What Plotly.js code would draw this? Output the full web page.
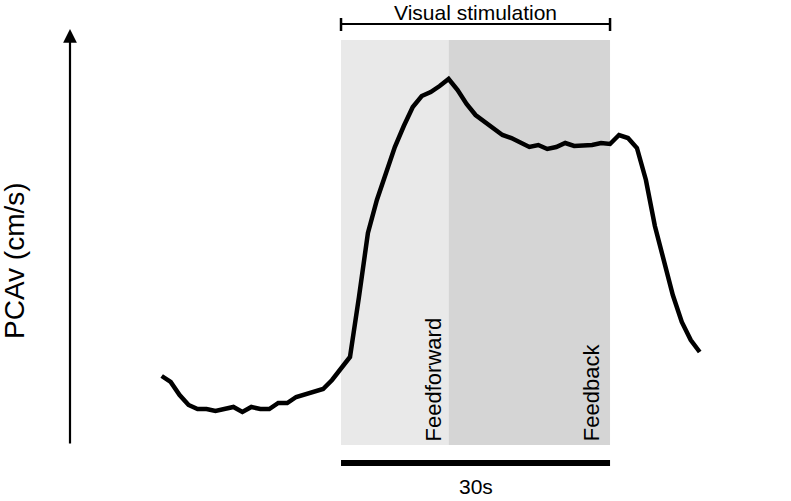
<!DOCTYPE html>
<html>
<head>
<meta charset="utf-8">
<script src="https://cdn.plot.ly/plotly-3.0.1.min.js"></script>
<style>html,body{margin:0;padding:0;background:#fff;}#chart{width:791px;height:501px;}</style>
</head>
<body>
<div id="chart"></div>
<script>
// time (s) relative to stimulation onset
const timeSec = [-20,-19,-18,-17,-16,-15,-14,-13,-12,-11,-10,-9,-8,-7,-6,-5,-4,-3,-2,-1,
  0,1,2,3,4,5,6,7,8,9,10,11,12,13,14,15,16,17,18,19,20,21,22,23,24,25,26,27,28,29,30,
  31,32,33,34,35,36,37,38,39,40];
// PCAv (cm/s, arbitrary scale)
const pcav = [41.9,41.3,40.0,39.0,38.6,38.6,38.4,38.6,38.8,38.3,38.8,38.6,38.6,39.2,39.2,39.8,40.1,40.3,40.6,41.5,
  42.7,43.8,49.8,56.2,59.5,62.3,64.8,66.9,68.8,69.9,70.3,70.9,71.6,70.5,69.1,68.0,67.3,66.6,66.0,65.7,65.2,64.8,65.0,64.6,64.8,65.2,64.9,64.9,65.0,65.2,65.1,
  66.0,65.7,64.7,61.5,56.9,53.3,50.0,47.3,45.5,44.3];
const stimStart = 0, feedforwardEnd = 12, stimEnd = 30;
const phaseLabels = ["Feedforward", "Feedback"];
const stimLabel = "Visual stimulation";
const durationLabel = "30s";
const yLabel = "PCAv (cm/s)";

const FONT = "Liberation Sans, Arial, sans-serif";
const yBottom = 35, yTop = 75.5;

const data = [{
  x: timeSec, y: pcav, type: 'scatter', mode: 'lines',
  line: {color: '#000', width: 4.5}, hoverinfo: 'skip'
}];

const layout = {
  width: 791, height: 501,
  margin: {l: 0, r: 0, t: 0, b: 0},
  paper_bgcolor: '#fff', plot_bgcolor: '#fff',
  showlegend: false,
  xaxis: {range: [-38.03, 50.18], visible: false, fixedrange: true},
  yaxis: {range: [29.4, 79.5], visible: false, fixedrange: true},
  shapes: [
    {type: 'rect', layer: 'below', xref: 'x', yref: 'y', x0: stimStart, x1: feedforwardEnd, y0: yBottom, y1: yTop,
     fillcolor: '#e9e9e9', line: {width: 0}},
    {type: 'rect', layer: 'below', xref: 'x', yref: 'y', x0: feedforwardEnd, x1: stimEnd, y0: yBottom, y1: yTop,
     fillcolor: '#d5d5d5', line: {width: 0}},
    // bracket
    {type: 'line', xref: 'x', yref: 'y', x0: stimStart, x1: stimEnd, y0: 77.1, y1: 77.1, line: {color: '#000', width: 2}},
    {type: 'line', xref: 'x', yref: 'y', x0: stimStart, x1: stimStart, y0: 76.4, y1: 77.7, line: {color: '#000', width: 2.5}},
    {type: 'line', xref: 'x', yref: 'y', x0: stimEnd, x1: stimEnd, y0: 76.4, y1: 77.7, line: {color: '#000', width: 2.5}},
    // 30 s bar
    {type: 'line', xref: 'x', yref: 'y', x0: stimStart, x1: stimEnd, y0: 33.2, y1: 33.2, line: {color: '#000', width: 6}}
  ],
  annotations: [
    {xref: 'x', yref: 'y', x: (stimStart + stimEnd) / 2, y: 78.3, text: stimLabel, showarrow: false,
     xanchor: 'center', yanchor: 'middle', font: {family: FONT, size: 21, color: '#000'}},
    {xref: 'x', yref: 'y', x: (stimStart + stimEnd) / 2, y: 30.9, text: durationLabel, showarrow: false,
     xanchor: 'center', yanchor: 'middle', font: {family: FONT, size: 21, color: '#000'}},
    {xref: 'x', yref: 'y', x: 10.3, y: 35.2, text: phaseLabels[0], showarrow: false, textangle: -90,
     xanchor: 'center', yanchor: 'bottom', font: {family: FONT, size: 22, color: '#000'}},
    {xref: 'x', yref: 'y', x: 27.9, y: 35.2, text: phaseLabels[1], showarrow: false, textangle: -90,
     xanchor: 'center', yanchor: 'bottom', font: {family: FONT, size: 22, color: '#000'}},
    {xref: 'paper', yref: 'paper', x: 14 / 791, y: 1 - 261 / 501, text: yLabel, showarrow: false, textangle: -90,
     xanchor: 'center', yanchor: 'middle', font: {family: FONT, size: 28, color: '#000'}},
    {xref: 'paper', yref: 'paper', x: 70 / 791, y: 1 - 29 / 501, ax: 0, ay: 416, text: '', showarrow: true,
     arrowhead: 2, arrowsize: 1.25, arrowwidth: 2.2, arrowcolor: '#000'}
  ]
};

Plotly.newPlot('chart', data, layout, {staticPlot: true, displayModeBar: false});
</script>
</body>
</html>
